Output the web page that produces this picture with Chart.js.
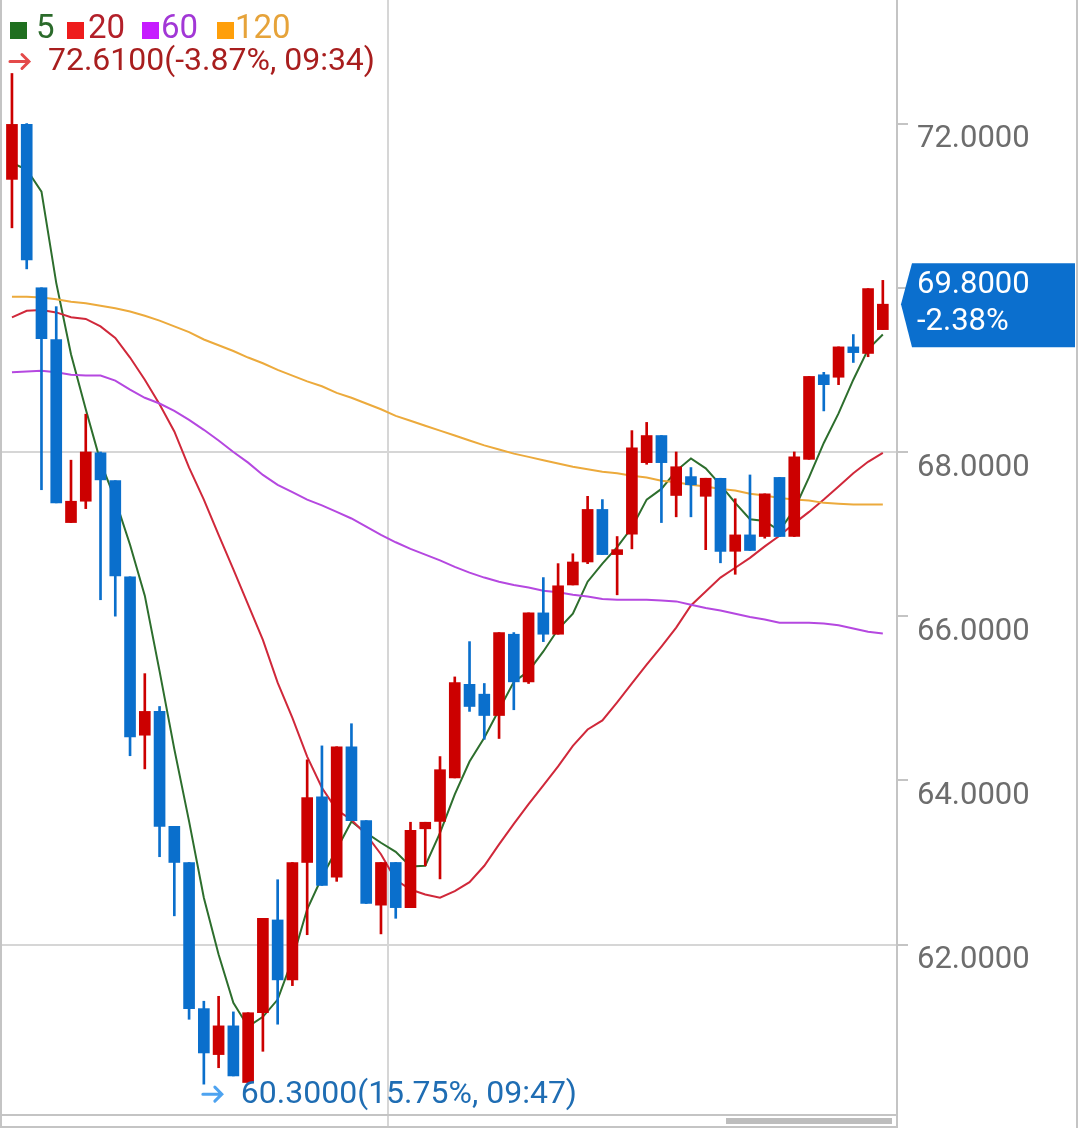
<!DOCTYPE html>
<html>
<head>
<meta charset="utf-8">
<script src="https://cdn.jsdelivr.net/npm/chart.js@4.4.1/dist/chart.umd.min.js"></script>
<style>
  html, body { margin: 0; padding: 0; background: #fff; }
  #wrap { width: 1080px; height: 1128px; }
</style>
</head>
<body>
<div id="wrap"><canvas id="kline" width="1080" height="1128"></canvas></div>
<script>
// candle values (60 bars)
const open = [71.32, 71.99, 70.00, 69.37, 67.14, 67.40, 67.99, 67.65, 66.48, 64.55,
  64.84, 63.44, 63.00, 61.22, 60.66, 61.01, 60.32, 61.17, 62.30, 61.57,
  63.00, 63.80, 62.82, 64.41, 63.51, 62.48, 63.00, 62.45, 63.41, 63.50,
  64.03, 65.17, 65.05, 64.79, 65.78, 65.20, 66.04, 65.78, 66.38, 66.66,
  67.30, 66.75, 67.00, 67.87, 68.20, 67.47, 67.70, 67.46, 67.68, 66.79,
  66.99, 66.97, 67.69, 66.97, 67.91, 68.94, 68.91, 69.28, 69.20, 69.49];
const high = [72.61, 72.00, 70.00, 69.77, 67.90, 68.46, 68.00, 67.65, 66.48, 65.30,
  64.90, 63.44, 63.00, 61.31, 61.37, 61.18, 61.17, 62.32, 62.79, 63.00,
  64.25, 64.42, 64.41, 64.69, 63.51, 63.00, 63.00, 63.49, 63.49, 64.29,
  65.26, 65.69, 65.18, 65.80, 65.80, 66.04, 66.47, 66.64, 66.76, 67.46,
  67.42, 66.97, 68.26, 68.36, 68.20, 68.00, 67.81, 67.68, 67.68, 67.43,
  67.72, 67.49, 67.69, 68.00, 68.92, 68.97, 69.28, 69.43, 69.99, 70.09];
const low = [70.73, 70.23, 67.54, 67.38, 67.14, 67.31, 66.20, 66.00, 64.30, 64.14,
  63.07, 62.35, 61.09, 60.30, 60.50, 60.40, 60.32, 60.70, 61.03, 61.50,
  62.12, 62.72, 62.77, 63.51, 62.50, 62.13, 62.32, 62.45, 62.96, 62.80,
  64.03, 64.84, 64.50, 64.51, 64.86, 65.18, 65.69, 65.78, 66.38, 66.64,
  66.75, 66.26, 66.82, 67.85, 67.14, 67.21, 67.21, 66.81, 66.65, 66.51,
  66.80, 66.95, 66.97, 66.97, 67.91, 68.50, 68.82, 69.09, 69.16, 69.49];
const close = [71.99, 70.34, 69.38, 67.38, 67.40, 68.00, 67.66, 66.49, 64.53, 64.84,
  63.44, 63.00, 61.22, 60.68, 61.01, 60.40, 61.17, 62.32, 61.57, 63.00,
  63.79, 62.72, 64.41, 63.51, 62.50, 63.00, 62.45, 63.39, 63.49, 64.13,
  65.19, 64.90, 64.79, 65.80, 65.20, 66.04, 65.78, 66.37, 66.66, 67.30,
  66.75, 66.81, 68.05, 68.20, 67.87, 67.82, 67.60, 67.68, 66.79, 66.99,
  66.80, 67.49, 66.97, 67.94, 68.92, 68.82, 69.28, 69.21, 69.99, 69.80];

// moving average lines
const ma5 = [71.52, 71.44, 71.17, 70.06, 69.19, 68.52, 67.88, 67.42, 66.87, 66.25,
  65.33, 64.38, 63.50, 62.57, 61.88, 61.29, 61.00, 61.12, 61.33, 61.82,
  62.43, 62.82, 63.16, 63.50, 63.36, 63.24, 63.13, 62.95, 62.96, 63.36,
  63.83, 64.23, 64.52, 64.86, 65.20, 65.33, 65.57, 65.84, 66.03, 66.42,
  66.64, 66.84, 67.08, 67.42, 67.55, 67.77, 67.92, 67.80, 67.60, 67.38,
  67.18, 67.16, 67.04, 67.30, 67.69, 68.11, 68.47, 68.88, 69.25, 69.43];
const ma20 = [69.64, 69.72, 69.73, 69.70, 69.64, 69.62, 69.53, 69.39, 69.15, 68.88,
  68.58, 68.25, 67.81, 67.42, 66.99, 66.57, 66.14, 65.71, 65.19, 64.76,
  64.29, 63.91, 63.64, 63.52, 63.34, 63.10, 62.79, 62.67, 62.61, 62.57,
  62.65, 62.76, 62.96, 63.22, 63.47, 63.71, 63.94, 64.17, 64.42, 64.62,
  64.73, 64.95, 65.18, 65.41, 65.63, 65.86, 66.13, 66.30, 66.47, 66.59,
  66.71, 66.85, 66.98, 67.13, 67.27, 67.42, 67.58, 67.74, 67.88, 67.99];
const ma60 = [68.97, 68.98, 68.99, 68.97, 68.94, 68.93, 68.93, 68.87, 68.76, 68.66,
  68.59, 68.50, 68.39, 68.27, 68.14, 68.00, 67.87, 67.72, 67.60, 67.51,
  67.42, 67.35, 67.27, 67.19, 67.09, 66.99, 66.90, 66.82, 66.75, 66.68,
  66.60, 66.53, 66.47, 66.42, 66.38, 66.35, 66.31, 66.29, 66.26, 66.24,
  66.21, 66.20, 66.20, 66.20, 66.19, 66.18, 66.14, 66.10, 66.07, 66.03,
  65.99, 65.96, 65.92, 65.92, 65.92, 65.91, 65.89, 65.85, 65.81, 65.79];
const ma120 = [69.89, 69.89, 69.88, 69.86, 69.83, 69.81, 69.78, 69.75, 69.71, 69.66,
  69.60, 69.53, 69.46, 69.37, 69.30, 69.23, 69.15, 69.08, 69.00, 68.93,
  68.86, 68.80, 68.72, 68.66, 68.59, 68.52, 68.44, 68.38, 68.32, 68.26,
  68.20, 68.14, 68.08, 68.03, 67.98, 67.94, 67.90, 67.86, 67.82, 67.79,
  67.76, 67.74, 67.71, 67.69, 67.65, 67.63, 67.60, 67.58, 67.55, 67.53,
  67.49, 67.47, 67.44, 67.42, 67.41, 67.38, 67.37, 67.36, 67.36, 67.36];

const yTicks = [62, 64, 66, 68, 70, 72];
const gridLevels = [62, 68];
const maNames = ['5', '20', '60', '120'];
const maxNote = '(-3.87%, 09:34)';
const minNote = '(15.75%, 09:47)';
const lastChange = '-2.38%';
const sessionBreak = 25.5;

const UP = '#cc0000';
const DOWN = '#0a6fcc';
const candleColors = open.map((o, i) => close[i] >= o ? UP : DOWN);

Chart.defaults.font.family = 'Roboto';

function pts(arr) {
  return arr.map((v, i) => ({ x: i, y: v }));
}

function maLine(arr, color, width) {
  return {
    type: 'line', data: pts(arr), borderColor: color, borderWidth: width,
    pointRadius: 0, tension: 0, fill: false, order: 2
  };
}

function arrow(ctx, x, y, color) {
  ctx.strokeStyle = color;
  ctx.lineWidth = 3;
  ctx.lineCap = 'round';
  ctx.beginPath();
  ctx.moveTo(x, y); ctx.lineTo(x + 19, y);
  ctx.moveTo(x + 12, y - 7); ctx.lineTo(x + 19, y); ctx.lineTo(x + 12, y + 7);
  ctx.stroke();
}

//draws the frame, legend, high/low notes and the last price tag
const overlay = {
  id: 'overlay',
  afterDraw(chart) {
    const ctx = chart.ctx;
    const xs = chart.scales.x, ys = chart.scales.y;
    const area = chart.chartArea;
    ctx.save();

    ctx.strokeStyle = '#c4c4c4';
    ctx.lineWidth = 2;
    ctx.beginPath();
    ctx.moveTo(1, 0); ctx.lineTo(1, 1128);
    ctx.moveTo(1077, 0); ctx.lineTo(1077, 1128);
    ctx.moveTo(0, 1115); ctx.lineTo(area.right, 1115);
    ctx.stroke();
    ctx.fillStyle = '#bdbdbd';
    ctx.fillRect(726, 1118, 166, 6);

    // legend
    const boxCols = ['#1f6f1f', '#ee1c1c', '#c61cff', '#ff9f0a'];
    const txtCols = ['#2b6b2b', '#b3202a', '#a237d6', '#e6a33a'];
    const boxX = [10, 67, 142, 217];
    const txtX = [36, 88, 161, 235];
    ctx.font = '33px Roboto';
    ctx.textBaseline = 'middle';
    ctx.textAlign = 'left';
    maNames.forEach(function (name, i) {
      ctx.fillStyle = boxCols[i];
      ctx.fillRect(boxX[i], 22, 17, 17);
      ctx.fillStyle = txtCols[i];
      ctx.fillText(name, txtX[i], 30);
    });

    // highest / lowest
    ctx.font = '32px Roboto';
    const iMax = high.indexOf(Math.max(...high));
    const iMin = low.indexOf(Math.min(...low));
    let ax = xs.getPixelForValue(iMax) - 2;
    let ay = ys.getPixelForValue(high[iMax]) - 12;
    arrow(ctx, ax, ay, '#e44a4a');
    ctx.fillStyle = '#a81e1e';
    ctx.fillText(high[iMax].toFixed(4) + maxNote, ax + 38, ay + 1);

    ax = xs.getPixelForValue(iMin) - 1;
    ay = ys.getPixelForValue(low[iMin]) + 10;
    arrow(ctx, ax, ay, '#4ea3f0');
    ctx.fillStyle = '#1f6db3';
    ctx.fillText(low[iMin].toFixed(4) + minNote, ax + 38, ay + 1);

    // last price tag
    const last = close[close.length - 1];
    const py = ys.getPixelForValue(last);
    ctx.fillStyle = '#0b6fce';
    ctx.beginPath();
    ctx.moveTo(901, py);
    ctx.lineTo(912, py - 41);
    ctx.lineTo(1075, py - 41);
    ctx.lineTo(1075, py + 43);
    ctx.lineTo(912, py + 43);
    ctx.closePath();
    ctx.fill();
    ctx.font = '31px Roboto';
    ctx.fillStyle = '#ffffff';
    ctx.fillText(last.toFixed(4), 917, py - 19);
    ctx.fillText(lastChange, 917, py + 18);

    ctx.restore();
  }
};

new Chart(document.getElementById('kline'), {
  type: 'bar',
  data: {
    datasets: [
      {
        label: 'body', data: open.map((o, i) => ({ x: i, y: [o, close[i]] })),
        backgroundColor: candleColors, barThickness: 11, grouped: false, order: 0
      },
      {
        label: 'wick', data: low.map((l, i) => ({ x: i, y: [l, high[i]] })),
        backgroundColor: candleColors, barThickness: 2, grouped: false, order: 1
      },
      maLine(ma120, '#ecaa3c', 2),
      maLine(ma60, '#b548e0', 2),
      maLine(ma20, '#d0283a', 2),
      maLine(ma5, '#2d6e2d', 2)
    ]
  },
  options: {
    responsive: false,
    devicePixelRatio: 1,
    animation: false,
    layout: { padding: { left: 0, right: 0, top: 0, bottom: 1 } },
    plugins: { legend: { display: false }, tooltip: { enabled: false } },
    scales: {
      x: {
        type: 'linear', min: -0.81, max: 59.96, offset: false,
        afterBuildTicks: s => { s.ticks = [{ value: sessionBreak }]; },
        afterFit: s => { s.height = 0; s.paddingLeft = 0; s.paddingRight = 0; },
        ticks: { display: false },
        grid: { offset: false, color: '#d6d6d6', lineWidth: 2, drawTicks: false },
        border: { color: '#c4c4c4', width: 2 }
      },
      y: {
        type: 'linear', position: 'right', min: 59.778, max: 73.505,
        afterBuildTicks: s => { s.ticks = yTicks.map(v => ({ value: v })); },
        afterFit: s => { s.width = 183; s.paddingTop = 0; s.paddingBottom = 0; },
        grid: {
          color: c => (c.tick && gridLevels.includes(c.tick.value)) ? '#d6d6d6' : 'rgba(0,0,0,0)',
          lineWidth: 2, tickColor: '#c4c4c4', tickLength: 11
        },
        border: { color: '#c4c4c4', width: 2 },
        ticks: {
          padding: 9, labelOffset: 16, color: '#6d6d6d',
          font: { size: 31 },
          callback: v => v.toFixed(4)
        }
      }
    }
  },
  plugins: [overlay]
});
</script>
</body>
</html>
